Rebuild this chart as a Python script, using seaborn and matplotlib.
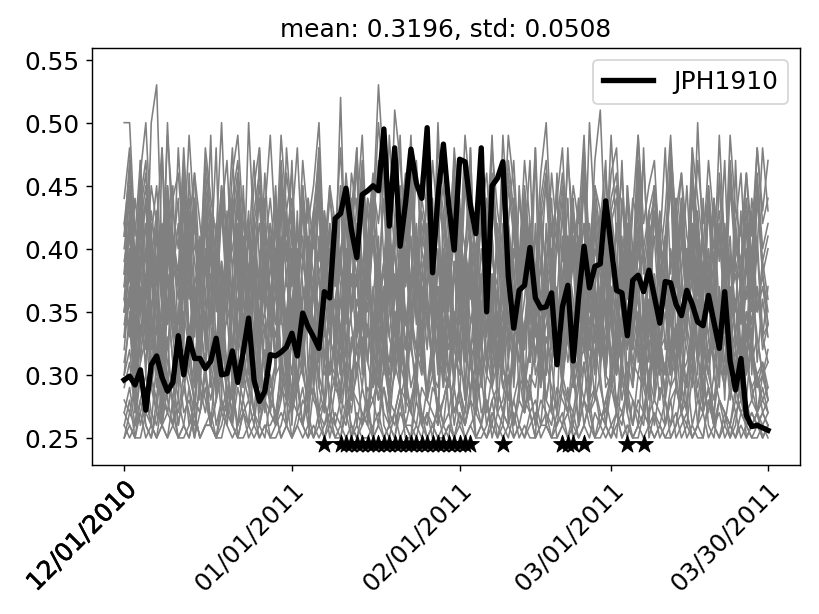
import numpy as np
import pandas as pd
import matplotlib
matplotlib.use("Agg")
import matplotlib.pyplot as plt
import matplotlib.dates as mdates
import matplotlib.patheffects as pe
import seaborn as sns

# one value per day, 12/01/2010 .. 03/30/2011
dates = pd.date_range("2010-12-01", "2011-03-30", freq="D")

jph1910 = [
    0.296, 0.299, 0.292, 0.304, 0.272, 0.308, 0.315, 0.298, 0.287, 0.294,
    0.331, 0.300, 0.329, 0.313, 0.313, 0.305, 0.311, 0.329, 0.300, 0.301,
    0.319, 0.294, 0.318, 0.345, 0.296, 0.279, 0.287, 0.316, 0.315, 0.318,
    0.322, 0.333, 0.315, 0.349, 0.338, 0.330, 0.321, 0.366, 0.361, 0.424,
    0.428, 0.448, 0.415, 0.393, 0.443, 0.446, 0.450, 0.446, 0.495, 0.418,
    0.480, 0.402, 0.436, 0.479, 0.452, 0.440, 0.496, 0.381, 0.442, 0.483,
    0.434, 0.399, 0.471, 0.469, 0.434, 0.412, 0.480, 0.350, 0.450, 0.456,
    0.469, 0.378, 0.337, 0.367, 0.371, 0.401, 0.361, 0.353, 0.354, 0.365,
    0.308, 0.354, 0.371, 0.311, 0.362, 0.402, 0.369, 0.386, 0.388, 0.438,
    0.402, 0.367, 0.365, 0.331, 0.375, 0.379, 0.366, 0.383, 0.362, 0.341,
    0.374, 0.373, 0.356, 0.347, 0.367, 0.356, 0.342, 0.339, 0.363, 0.342,
    0.321, 0.366, 0.311, 0.288, 0.313, 0.268, 0.259, 0.260, 0.258, 0.256,
]

# days (index into dates) flagged with a star under the curves
star_days = [37] + list(range(40, 65)) + [70, 81, 82, 83, 85, 93, 96]
star_level = 0.245

tick_dates = ["2010-12-01", "2011-01-01", "2011-02-01", "2011-03-01", "2011-03-30"]
title_text = "mean: 0.3196, std: 0.0508"

# other stations, values in hundredths
floor_runs = [
    [26, 25, 26, 27, 25, 26, 25, 26, 27, 26, 25, 25, 26, 27, 25, 26, 26, 25, 27, 26,
     25, 26, 27, 25, 26, 25, 26, 26, 27, 25, 26, 25, 27, 26, 25, 26, 25, 26, 27, 25,
     26, 25, 26, 25, 27, 26, 25, 26, 25, 26, 27, 25, 26, 26, 25, 27, 25, 26, 25, 26,
     27, 25, 26, 25, 26, 27, 26, 25, 26, 25, 27, 26, 25, 26, 25, 26, 27, 25, 26, 25,
     26, 27, 25, 26, 25, 26, 25, 27, 26, 25, 26, 27, 25, 26, 25, 26, 27, 26, 25, 26,
     25, 26, 27, 25, 26, 25, 26, 27, 25, 26, 25, 27, 26, 25, 26, 25, 26, 27, 25, 26],
    [27, 26, 25, 28, 26, 25, 27, 26, 25, 26, 28, 26, 25, 27, 25, 26, 27, 25, 26, 28,
     26, 25, 27, 26, 25, 26, 28, 25, 26, 27, 26, 25, 26, 28, 27, 25, 26, 25, 27, 26,
     25, 28, 26, 25, 26, 27, 25, 26, 29, 26, 25, 27, 26, 25, 28, 26, 25, 26, 27, 25,
     26, 25, 27, 26, 28, 25, 26, 25, 27, 26, 25, 26, 28, 26, 25, 27, 25, 26, 26, 28,
     25, 26, 27, 25, 26, 28, 26, 25, 27, 26, 25, 26, 27, 25, 28, 26, 25, 26, 27, 25,
     26, 28, 25, 26, 27, 25, 26, 25, 28, 26, 27, 25, 26, 25, 27, 26, 25, 26, 25, 26],
    [25, 27, 26, 30, 26, 25, 28, 26, 33, 27, 25, 26, 29, 25, 27, 31, 26, 25, 28, 26,
     30, 25, 27, 26, 32, 26, 25, 28, 27, 25, 26, 34, 27, 26, 25, 29, 26, 28, 25, 27,
     26, 31, 25, 27, 26, 28, 25, 33, 26, 25, 27, 29, 26, 25, 30, 26, 27, 25, 28, 26,
     25, 29, 26, 27, 32, 25, 26, 28, 25, 27, 26, 30, 25, 26, 28, 27, 25, 33, 26, 25,
     27, 26, 29, 25, 26, 31, 27, 25, 26, 28, 26, 25, 30, 27, 25, 26, 32, 25, 27, 26,
     28, 25, 26, 29, 27, 25, 26, 31, 26, 25, 28, 27, 25, 26, 30, 25, 26, 27, 25, 26],
    [25, 26, 25, 25, 27, 26, 25, 26, 25, 28, 25, 26, 25, 27, 25, 26, 26, 25, 25, 27,
     26, 25, 25, 26, 27, 25, 26, 25, 25, 26, 28, 25, 26, 25, 26, 25, 27, 25, 26, 25,
     25, 27, 25, 26, 25, 25, 26, 27, 25, 26, 25, 28, 25, 25, 26, 25, 27, 26, 25, 25,
     26, 25, 27, 25, 26, 25, 25, 26, 28, 25, 26, 25, 27, 25, 26, 25, 25, 26, 27, 25,
     25, 26, 25, 27, 25, 26, 28, 25, 25, 26, 25, 27, 25, 26, 25, 25, 27, 26, 25, 26,
     25, 25, 26, 27, 25, 26, 25, 25, 28, 26, 25, 26, 25, 27, 25, 26, 25, 25, 26, 25],
    [27, 29, 26, 28, 30, 27, 26, 29, 28, 26, 31, 27, 28, 26, 29, 27, 30, 26, 28, 27,
     29, 26, 28, 31, 27, 26, 29, 28, 27, 30, 26, 28, 27, 29, 26, 32, 27, 28, 26, 29,
     28, 27, 30, 26, 29, 27, 28, 26, 31, 28, 27, 29, 26, 28, 30, 27, 26, 29, 28, 26,
     30, 27, 28, 26, 29, 31, 27, 28, 26, 29, 27, 30, 26, 28, 27, 29, 26, 31, 28, 27,
     26, 29, 28, 27, 30, 26, 28, 29, 27, 26, 31, 28, 27, 29, 26, 28, 27, 30, 26, 29,
     28, 26, 29, 27, 30, 26, 28, 27, 29, 26, 28, 27, 26, 28, 27, 26, 27, 26, 27, 26],
    [28, 27, 29, 26, 28, 30, 27, 26, 29, 28, 27, 30, 26, 28, 27, 29, 26, 28, 30, 27,
     26, 29, 27, 28, 26, 30, 28, 27, 26, 29, 28, 27, 30, 26, 28, 29, 27, 26, 28, 30,
     27, 26, 29, 28, 27, 26, 30, 28, 29, 27, 26, 28, 30, 27, 26, 29, 28, 27, 26, 28,
     30, 27, 29, 26, 28, 27, 30, 26, 28, 29, 27, 26, 28, 30, 27, 29, 26, 28, 27, 26,
     29, 28, 27, 30, 26, 28, 27, 29, 26, 28, 30, 27, 26, 29, 28, 27, 26, 30, 28, 27,
     26, 28, 29, 27, 26, 30, 28, 27, 29, 26, 28, 27, 26, 29, 27, 28, 26, 27, 26, 27],
    [29, 31, 27, 30, 28, 26, 31, 29, 27, 30, 26, 29, 31, 28, 27, 30, 26, 28, 31, 29,
     27, 30, 28, 26, 31, 27, 29, 30, 26, 28, 31, 27, 29, 26, 30, 28, 27, 31, 29, 26,
     28, 30, 27, 31, 26, 29, 28, 30, 27, 26, 31, 29, 28, 27, 30, 26, 29, 31, 27, 28,
     30, 26, 29, 27, 31, 28, 26, 30, 29, 27, 28, 31, 26, 29, 30, 27, 28, 26, 31, 29,
     27, 30, 28, 26, 29, 31, 27, 28, 30, 26, 29, 27, 31, 28, 26, 30, 29, 27, 28, 31,
     26, 29, 30, 27, 28, 31, 26, 29, 27, 30, 28, 26, 29, 27, 28, 26, 27, 26, 27, 26],
]

middle_runs = [
    [30, 32, 28, 31, 33, 29, 27, 32, 30, 28, 33, 31, 29, 27, 32, 30, 28, 31, 33, 29,
     27, 31, 30, 28, 33, 29, 32, 27, 30, 31, 28, 33, 29, 31, 27, 32, 30, 28, 33, 31,
     29, 32, 28, 30, 33, 27, 31, 29, 32, 28, 30, 33, 29, 27, 31, 32, 28, 30, 29, 33,
     27, 30, 32, 28, 31, 29, 33, 27, 30, 32, 29, 28, 31, 33, 27, 30, 29, 32, 28, 31,
     33, 29, 27, 32, 30, 28, 31, 33, 29, 27, 30, 32, 28, 31, 29, 33, 27, 30, 32, 28,
     31, 29, 33, 27, 30, 32, 28, 31, 29, 27, 30, 33, 28, 31, 29, 27, 28, 27, 28, 27],
    [31, 34, 29, 33, 35, 30, 28, 34, 31, 29, 35, 32, 30, 28, 33, 35, 29, 32, 34, 30,
     28, 33, 31, 35, 29, 32, 34, 28, 31, 35, 30, 33, 29, 34, 28, 32, 35, 30, 31, 29,
     34, 28, 33, 30, 35, 31, 29, 34, 32, 28, 35, 30, 33, 29, 31, 34, 28, 32, 35, 30,
     29, 33, 31, 34, 28, 35, 30, 32, 29, 34, 31, 28, 33, 35, 30, 29, 32, 34, 28, 31,
     35, 30, 33, 29, 31, 34, 28, 32, 35, 29, 30, 33, 31, 28, 34, 35, 29, 32, 30, 33,
     28, 31, 34, 30, 29, 35, 32, 28, 33, 31, 30, 34, 29, 32, 28, 31, 29, 30, 28, 29],
    [33, 36, 30, 34, 31, 35, 29, 33, 36, 31, 30, 35, 32, 29, 34, 36, 30, 33, 31, 35,
     29, 34, 32, 36, 30, 33, 35, 29, 31, 40, 33, 30, 36, 32, 29, 34, 31, 35, 30, 33,
     36, 29, 32, 35, 31, 34, 30, 36, 33, 29, 32, 35, 30, 34, 38, 31, 29, 33, 36, 32,
     30, 35, 31, 29, 34, 36, 32, 30, 33, 35, 29, 31, 36, 34, 30, 32, 35, 29, 33, 31,
     36, 30, 34, 32, 29, 35, 31, 33, 36, 30, 29, 34, 32, 35, 31, 30, 33, 36, 29, 32,
     35, 31, 30, 34, 32, 29, 36, 33, 30, 35, 31, 29, 34, 32, 30, 33, 31, 29, 30, 28],
    [34, 37, 31, 36, 33, 38, 30, 35, 32, 37, 31, 34, 38, 30, 36, 33, 31, 37, 35, 30,
     38, 32, 36, 31, 34, 37, 30, 35, 33, 38, 31, 36, 32, 30, 37, 34, 38, 31, 33, 36,
     30, 35, 38, 32, 34, 31, 37, 30, 36, 33, 38, 31, 35, 32, 30, 37, 34, 36, 31, 38,
     33, 30, 35, 37, 32, 34, 38, 31, 36, 30, 33, 37, 35, 31, 34, 38, 30, 32, 36, 33,
     37, 31, 34, 30, 38, 35, 32, 36, 31, 33, 37, 30, 34, 38, 32, 35, 31, 36, 33, 30,
     38, 34, 31, 37, 33, 30, 35, 32, 36, 31, 34, 30, 37, 33, 31, 35, 32, 30, 31, 29],
    [35, 39, 32, 37, 30, 40, 34, 31, 38, 36, 30, 39, 33, 37, 31, 40, 35, 32, 38, 30,
     36, 40, 33, 31, 38, 35, 30, 39, 34, 37, 31, 40, 32, 36, 38, 30, 35, 39, 33, 31,
     37, 40, 34, 30, 36, 39, 32, 38, 31, 35, 40, 33, 30, 37, 39, 32, 36, 31, 40, 34,
     30, 38, 35, 33, 39, 31, 37, 40, 32, 35, 30, 38, 36, 33, 40, 31, 34, 39, 30, 37,
     35, 32, 39, 36, 30, 40, 33, 37, 31, 38, 34, 30, 39, 35, 32, 40, 36, 31, 38, 33,
     30, 37, 39, 32, 35, 40, 31, 36, 33, 38, 30, 34, 39, 32, 36, 31, 37, 33, 30, 32],
    [36, 33, 39, 31, 37, 40, 34, 32, 38, 35, 31, 44, 33, 37, 40, 32, 36, 31, 39, 34,
     37, 32, 40, 35, 31, 38, 33, 36, 40, 31, 35, 39, 32, 37, 34, 43, 31, 36, 33, 39,
     40, 32, 35, 38, 31, 37, 34, 40, 33, 31, 36, 39, 32, 38, 35, 31, 40, 33, 37, 34,
     32, 39, 36, 31, 38, 33, 40, 35, 32, 37, 31, 39, 34, 36, 42, 31, 38, 33, 35, 40,
     31, 36, 39, 33, 37, 32, 40, 35, 31, 38, 34, 36, 31, 39, 33, 37, 40, 32, 35, 31,
     38, 34, 36, 32, 40, 33, 37, 31, 39, 35, 32, 38, 34, 36, 31, 39, 33, 37, 32, 34],
    [37, 40, 34, 39, 32, 41, 36, 33, 40, 38, 32, 37, 41, 34, 39, 33, 36, 40, 32, 38,
     35, 41, 33, 37, 39, 32, 40, 36, 34, 41, 33, 38, 35, 32, 40, 37, 34, 39, 41, 33,
     36, 32, 40, 38, 34, 41, 33, 37, 32, 39, 36, 40, 34, 33, 41, 37, 32, 39, 35, 38,
     41, 34, 32, 40, 36, 39, 33, 37, 41, 32, 35, 40, 38, 33, 36, 41, 34, 32, 39, 37,
     33, 40, 36, 32, 41, 38, 34, 37, 33, 40, 35, 32, 39, 41, 34, 36, 33, 40, 37, 32,
     39, 35, 41, 33, 37, 34, 40, 32, 38, 36, 33, 41, 35, 39, 32, 37, 34, 40, 33, 31],
    [38, 41, 35, 42, 33, 39, 36, 41, 34, 40, 37, 33, 42, 36, 39, 34, 41, 38, 33, 40,
     36, 42, 34, 38, 41, 33, 39, 35, 42, 37, 34, 40, 36, 33, 41, 38, 35, 42, 34, 39,
     33, 40, 37, 42, 35, 38, 41, 34, 36, 42, 33, 39, 37, 41, 35, 34, 42, 38, 33, 40,
     36, 41, 34, 39, 42, 33, 37, 40, 35, 41, 38, 34, 42, 36, 33, 39, 41, 35, 37, 42,
     34, 38, 41, 33, 36, 40, 42, 35, 39, 34, 41, 37, 33, 40, 36, 42, 35, 38, 41, 34,
     39, 36, 42, 33, 40, 37, 34, 41, 35, 39, 33, 42, 36, 38, 34, 40, 35, 41, 33, 37],
    [39, 42, 36, 43, 34, 40, 38, 42, 35, 41, 37, 34, 43, 39, 36, 42, 34, 40, 38, 35,
     43, 37, 41, 34, 39, 42, 36, 35, 43, 38, 40, 34, 42, 37, 35, 41, 39, 43, 36, 34,
     40, 42, 35, 38, 43, 36, 41, 34, 39, 42, 37, 35, 43, 40, 34, 38, 41, 36, 43, 35,
     38, 42, 34, 40, 37, 43, 35, 39, 41, 34, 36, 42, 38, 35, 43, 40, 37, 34, 41, 39,
     36, 43, 34, 40, 38, 42, 35, 37, 41, 34, 43, 39, 36, 42, 35, 38, 40, 34, 43, 37,
     41, 35, 39, 42, 34, 38, 43, 36, 40, 35, 42, 37, 34, 41, 38, 36, 43, 35, 39, 36],
    [33, 40, 29, 44, 35, 30, 42, 37, 28, 45, 32, 38, 41, 29, 36, 44, 31, 39, 28, 43,
     35, 30, 45, 33, 38, 29, 42, 36, 31, 44, 28, 40, 34, 45, 30, 37, 29, 43, 39, 32,
     28, 44, 35, 41, 30, 38, 45, 29, 34, 42, 31, 37, 28, 44, 36, 30, 41, 33, 45, 29,
     38, 32, 43, 28, 40, 35, 45, 30, 37, 29, 42, 34, 39, 28, 44, 31, 36, 43, 30, 38,
     45, 29, 34, 41, 32, 37, 28, 44, 30, 39, 35, 42, 29, 45, 33, 38, 30, 43, 28, 36,
     41, 31, 44, 29, 38, 34, 42, 30, 45, 32, 37, 28, 40, 35, 43, 30, 39, 31, 36, 33],
    [32, 37, 28, 35, 40, 30, 34, 27, 38, 33, 29, 40, 31, 36, 28, 39, 34, 30, 37, 27,
     35, 40, 29, 33, 38, 31, 27, 36, 39, 30, 34, 28, 40, 32, 37, 29, 35, 27, 38, 33,
     30, 39, 28, 36, 34, 40, 29, 32, 37, 27, 35, 31, 40, 33, 28, 38, 36, 30, 27, 39,
     34, 29, 37, 32, 40, 28, 35, 31, 38, 27, 33, 39, 30, 36, 28, 40, 34, 29, 37, 31,
     27, 38, 33, 30, 40, 35, 28, 36, 32, 39, 29, 34, 37, 27, 40, 31, 35, 28, 38, 33,
     30, 36, 39, 28, 34, 31, 40, 27, 37, 33, 29, 38, 35, 30, 36, 28, 33, 29, 31, 28],
    [35, 40, 30, 38, 42, 32, 36, 29, 41, 34, 31, 39, 42, 30, 37, 33, 40, 29, 36, 41,
     32, 38, 29, 42, 35, 31, 40, 37, 30, 39, 33, 42, 29, 36, 38, 31, 41, 34, 30, 40,
     37, 29, 42, 33, 39, 31, 36, 41, 30, 38, 34, 29, 42, 35, 32, 40, 37, 30, 39, 33,
     42, 29, 36, 40, 31, 38, 34, 42, 30, 37, 33, 41, 29, 35, 39, 32, 42, 36, 30, 38,
     31, 41, 34, 29, 40, 37, 32, 42, 35, 30, 39, 33, 41, 29, 36, 38, 31, 42, 34, 30,
     40, 35, 29, 38, 33, 42, 31, 37, 40, 30, 35, 39, 32, 36, 30, 34, 31, 33, 30, 31],
    [26, 28, 25, 27, 29, 26, 25, 28, 27, 30, 26, 29, 27, 25, 30, 28, 26, 31, 27, 29,
     28, 26, 31, 29, 27, 32, 28, 30, 26, 31, 29, 27, 32, 30, 28, 33, 29, 27, 31, 30,
     28, 33, 30, 32, 29, 34, 31, 28, 33, 30, 35, 31, 29, 34, 32, 30, 35, 31, 33, 29,
     34, 32, 30, 35, 31, 33, 29, 34, 32, 30, 35, 33, 31, 34, 29, 32, 35, 30, 33, 31,
     34, 30, 33, 35, 31, 32, 29, 34, 33, 30, 35, 31, 32, 34, 30, 33, 29, 35, 31, 32,
     33, 30, 34, 32, 29, 35, 31, 33, 30, 34, 32, 29, 33, 31, 30, 32, 28, 30, 27, 28],
    [42, 38, 44, 40, 37, 43, 39, 41, 45, 38, 42, 36, 44, 40, 39, 43, 37, 41, 44, 38,
     40, 43, 37, 41, 39, 44, 36, 42, 38, 40, 43, 37, 41, 39, 36, 42, 38, 40, 35, 41,
     38, 36, 40, 37, 39, 35, 41, 36, 38, 40, 34, 37, 39, 35, 38, 36, 40, 34, 37, 35,
     38, 33, 36, 39, 34, 37, 35, 33, 38, 36, 32, 37, 34, 36, 33, 35, 37, 32, 34, 36,
     33, 35, 31, 34, 36, 32, 33, 35, 31, 34, 32, 30, 35, 33, 31, 34, 32, 30, 33, 31,
     29, 32, 34, 30, 31, 33, 29, 32, 30, 28, 31, 33, 29, 30, 28, 31, 29, 27, 30, 28],
    [30, 35, 27, 33, 38, 29, 32, 26, 36, 31, 28, 37, 33, 27, 35, 30, 38, 28, 34, 31,
     26, 36, 32, 29, 38, 27, 34, 31, 37, 28, 33, 26, 36, 30, 38, 29, 32, 35, 27, 34,
     31, 38, 28, 33, 36, 26, 35, 30, 37, 29, 32, 38, 27, 34, 31, 36, 28, 33, 26, 37,
     30, 35, 28, 38, 32, 27, 34, 36, 29, 31, 37, 26, 33, 38, 30, 28, 35, 32, 36, 27,
     34, 29, 38, 31, 26, 36, 33, 28, 37, 30, 35, 27, 32, 38, 29, 34, 31, 26, 36, 33,
     28, 37, 30, 35, 27, 33, 38, 29, 32, 26, 36, 31, 34, 28, 37, 30, 33, 27, 29, 27],
    [35, 38, 32, 37, 34, 39, 31, 36, 38, 33, 35, 39, 32, 37, 34, 31, 38, 36, 33, 39,
     31, 36, 38, 34, 32, 39, 35, 37, 31, 38, 33, 36, 39, 32, 35, 37, 31, 38, 34, 36,
     39, 32, 35, 38, 31, 37, 34, 36, 39, 33, 31, 38, 35, 32, 37, 39, 34, 31, 36, 38,
     33, 39, 31, 35, 37, 32, 38, 34, 36, 31, 39, 33, 37, 35, 32, 38, 31, 36, 39, 34,
     32, 37, 35, 39, 31, 36, 38, 33, 34, 39, 31, 37, 35, 32, 38, 36, 31, 39, 33, 35,
     37, 31, 38, 34, 36, 32, 39, 35, 31, 37, 33, 38, 34, 36, 31, 35, 32, 37, 33, 34],
]

upper_runs = [
    [40, 44, 36, 42, 45, 37, 41, 35, 43, 39, 36, 45, 38, 42, 35, 44, 40, 37, 43, 36,
     42, 45, 38, 35, 41, 44, 37, 40, 36, 45, 39, 42, 35, 43, 38, 41, 45, 36, 40, 37,
     44, 35, 42, 39, 45, 36, 41, 38, 44, 35, 40, 43, 37, 45, 36, 42, 39, 35, 44, 41,
     37, 43, 36, 45, 40, 38, 42, 35, 44, 39, 37, 45, 41, 36, 43, 38, 35, 42, 45, 37,
     40, 44, 36, 41, 38, 45, 35, 43, 39, 37, 42, 44, 36, 40, 35, 45, 38, 41, 43, 36,
     39, 45, 37, 42, 35, 44, 40, 36, 43, 38, 41, 35, 45, 39, 37, 42, 36, 44, 38, 40],
    [41, 45, 37, 43, 46, 38, 42, 36, 50, 40, 37, 46, 39, 43, 36, 45, 41, 38, 44, 37,
     43, 46, 39, 36, 42, 45, 38, 41, 37, 46, 40, 43, 36, 44, 39, 42, 48, 37, 41, 38,
     45, 36, 43, 40, 46, 37, 42, 50, 45, 36, 41, 44, 38, 46, 37, 43, 40, 36, 45, 42,
     38, 44, 37, 46, 41, 39, 43, 36, 45, 40, 38, 46, 42, 37, 44, 39, 36, 43, 46, 38,
     41, 45, 37, 42, 39, 46, 36, 44, 40, 38, 43, 45, 37, 41, 36, 46, 39, 42, 44, 37,
     40, 46, 38, 43, 36, 45, 41, 37, 44, 39, 42, 36, 46, 40, 38, 43, 37, 45, 39, 41],
    [42, 46, 38, 44, 47, 39, 43, 37, 45, 41, 38, 48, 40, 44, 37, 46, 42, 39, 45, 38,
     44, 47, 40, 37, 43, 46, 39, 42, 38, 47, 41, 44, 37, 45, 40, 43, 47, 38, 42, 39,
     44, 37, 44, 41, 47, 38, 43, 53, 46, 37, 42, 45, 39, 47, 38, 44, 41, 37, 46, 43,
     39, 45, 38, 47, 42, 40, 44, 37, 46, 41, 39, 47, 43, 38, 45, 40, 37, 44, 47, 39,
     42, 46, 38, 43, 40, 47, 37, 45, 41, 39, 44, 46, 38, 42, 37, 47, 40, 43, 45, 38,
     41, 47, 39, 44, 37, 46, 42, 38, 45, 40, 43, 37, 47, 41, 39, 44, 38, 46, 40, 42],
    [44, 48, 39, 46, 50, 41, 45, 38, 49, 43, 40, 47, 42, 46, 38, 48, 44, 41, 50, 39,
     46, 49, 42, 38, 45, 48, 40, 44, 39, 49, 43, 46, 38, 47, 42, 45, 50, 39, 44, 41,
     48, 38, 46, 43, 49, 39, 45, 42, 47, 38, 51, 47, 41, 49, 39, 46, 43, 38, 48, 45,
     41, 47, 39, 49, 44, 42, 46, 38, 48, 43, 40, 49, 45, 39, 47, 42, 38, 46, 50, 41,
     44, 48, 39, 45, 42, 49, 38, 47, 51, 40, 46, 48, 39, 44, 38, 49, 42, 45, 47, 39,
     43, 49, 41, 46, 38, 48, 44, 40, 47, 42, 45, 38, 49, 43, 41, 46, 39, 48, 42, 44],
    [38, 45, 31, 47, 36, 42, 30, 48, 34, 40, 44, 32, 46, 37, 30, 43, 39, 48, 33, 41,
     30, 46, 38, 43, 32, 48, 35, 41, 30, 45, 37, 47, 33, 39, 44, 31, 48, 36, 42, 30,
     45, 34, 40, 47, 31, 38, 44, 33, 48, 36, 30, 42, 46, 35, 39, 31, 47, 34, 43, 30,
     40, 46, 32, 38, 48, 35, 30, 44, 41, 33, 47, 37, 31, 45, 39, 34, 48, 30, 42, 36,
     46, 31, 39, 44, 33, 48, 36, 30, 42, 47, 35, 38, 31, 45, 40, 33, 48, 37, 30, 43,
     39, 46, 32, 41, 35, 48, 30, 44, 37, 33, 46, 40, 31, 47, 36, 42, 30, 45, 38, 35],
    [37, 43, 33, 40, 44, 35, 39, 32, 42, 36, 34, 44, 38, 33, 41, 36, 43, 32, 39, 35,
     44, 37, 32, 42, 38, 34, 44, 33, 40, 36, 43, 32, 39, 41, 34, 37, 44, 33, 38, 42,
     32, 40, 35, 44, 37, 33, 43, 39, 32, 41, 36, 44, 34, 38, 42, 33, 37, 44, 32, 40,
     35, 43, 38, 32, 41, 34, 44, 36, 33, 42, 39, 32, 40, 37, 44, 35, 33, 43, 38, 32,
     41, 36, 44, 33, 39, 42, 32, 37, 43, 35, 40, 32, 44, 38, 34, 41, 36, 33, 43, 39,
     32, 40, 37, 44, 34, 38, 42, 33, 36, 43, 35, 39, 32, 41, 37, 33, 40, 35, 38, 34],
    [41, 47, 38, 45, 36, 50, 53, 39, 44, 37, 48, 40, 36, 46, 42, 38, 49, 35, 43, 47,
     38, 44, 36, 50, 41, 37, 46, 39, 45, 35, 48, 42, 37, 44, 39, 36, 47, 40, 45, 38,
     52, 37, 43, 48, 36, 41, 46, 39, 35, 49, 42, 38, 45, 36, 47, 40, 44, 37, 50, 39,
     36, 45, 41, 38, 48, 35, 43, 46, 39, 37, 49, 42, 36, 44, 40, 47, 35, 43, 38, 46,
     41, 36, 48, 39, 44, 37, 50, 42, 35, 46, 40, 38, 47, 36, 43, 49, 39, 37, 45, 41,
     36, 48, 42, 38, 45, 37, 50, 40, 36, 44, 39, 47, 35, 42, 46, 38, 44, 40, 48, 43],
    [36, 42, 31, 39, 44, 33, 38, 30, 43, 35, 32, 41, 37, 44, 30, 39, 34, 42, 31, 38,
     44, 33, 37, 30, 42, 36, 39, 31, 44, 34, 38, 32, 43, 30, 40, 36, 44, 31, 35, 41,
     30, 38, 43, 33, 36, 44, 31, 40, 35, 42, 30, 37, 44, 33, 39, 31, 42, 36, 30, 43,
     38, 32, 44, 35, 40, 30, 37, 43, 33, 41, 36, 31, 44, 38, 32, 42, 35, 30, 39, 44,
     33, 37, 41, 30, 44, 36, 32, 40, 38, 31, 43, 35, 30, 42, 37, 44, 33, 39, 31, 41,
     36, 30, 44, 38, 33, 42, 31, 39, 36, 44, 30, 37, 41, 33, 38, 31, 40, 35, 37, 34],
    [50, 50, 41, 47, 39, 45, 42, 48, 38, 44, 46, 40, 49, 42, 38, 47, 43, 39, 45, 41,
     48, 38, 44, 40, 47, 39, 43, 49, 41, 38, 46, 42, 48, 39, 44, 40, 47, 38, 45, 42,
     39, 46, 41, 48, 38, 44, 42, 47, 39, 45, 40, 49, 38, 43, 46, 41, 39, 47, 42, 45,
     38, 48, 43, 40, 46, 39, 44, 41, 49, 38, 45, 42, 47, 39, 43, 40, 48, 38, 46, 41,
     44, 39, 47, 42, 38, 48, 40, 45, 43, 39, 49, 41, 46, 38, 44, 42, 47, 39, 45, 40,
     48, 38, 43, 46, 41, 39, 47, 42, 44, 38, 49, 40, 45, 42, 38, 46, 41, 48, 43, 47],
]

all_runs = floor_runs + middle_runs + upper_runs
bad = [i for i, r in enumerate(all_runs) if len(r) != len(dates)]
if bad:
    raise ValueError("wrong length runs: %s %s" % (bad, [len(all_runs[i]) for i in bad]))

frames = []
for k, run in enumerate(all_runs):
    frames.append(pd.DataFrame({"date": dates, "score": np.array(run) / 100.0, "run": k}))
background = pd.concat(frames, ignore_index=True)

fig = plt.figure(figsize=(6.4, 4.8), dpi=128)
ax = fig.add_axes([0.1123, 0.2427, 0.8645, 0.6791])

sns.lineplot(data=background, x="date", y="score", units="run", estimator=None,
             color="gray", linewidth=0.9, legend=False, ax=ax)
sns.lineplot(x=dates, y=jph1910, color="black", linewidth=3, label="JPH1910", ax=ax)
sns.scatterplot(x=dates[star_days], y=[star_level] * len(star_days), marker="*",
                s=110, color="black", edgecolor="black", linewidth=0.5, zorder=3, ax=ax)

ax.set_title(title_text, fontsize=14)
ax.set_xlabel("")
ax.set_ylabel("")
ax.set_ylim(0.2286, 0.5595)
ax.set_xticks(pd.to_datetime(tick_dates))
ax.xaxis.set_major_formatter(mdates.DateFormatter("%m/%d/%Y"))
for lbl in ax.get_xticklabels():
    lbl.set_rotation(45)
    lbl.set_ha("right")
    lbl.set_rotation_mode("anchor")
    lbl.set_fontsize(14)
ax.get_xticklabels()[0].set_path_effects([pe.withStroke(linewidth=0.35, foreground="black")])
ax.tick_params(axis="y", labelsize=14)

black = [l for l in ax.get_lines() if l.get_label() == "JPH1910"]
ax.legend(handles=black, loc="upper right", fontsize=14)

plt.savefig("out.png", dpi=128)
